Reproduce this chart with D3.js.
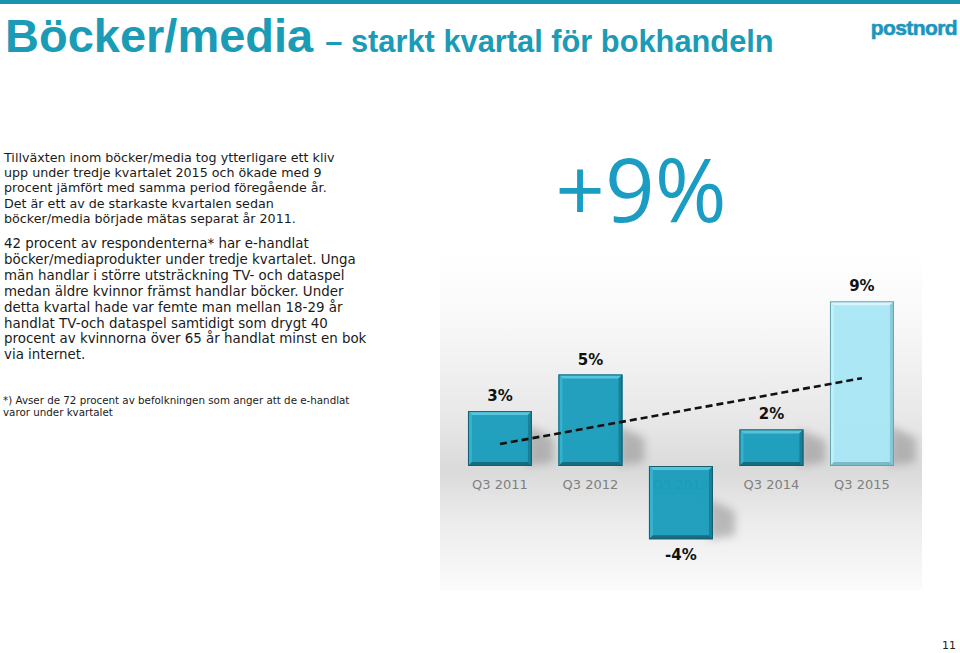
<!DOCTYPE html>
<html>
<head>
<meta charset="utf-8">
<script src="https://cdn.jsdelivr.net/npm/d3@7"></script>
<style>
  html, body { margin: 0; padding: 0; background: #ffffff; }
  svg { display: block; }
</style>
</head>
<body>
<svg id="chart" width="960" height="653"></svg>
<script>
// ---- data ----
const categories = ["Q3 2011", "Q3 2012", "Q3 2013", "Q3 2014", "Q3 2015"];
const values = [3, 5, -4, 2, 9];
const valueLabels = ["3%", "5%", "-4%", "2%", "9%"];
const highlighted = ["Q3 2015"];

const titleMain = "Böcker/media";
const titleSub = "– starkt kvartal för bokhandeln";
const bigNumber = "+9%";
const para1 = [
  "Tillväxten inom böcker/media tog ytterligare ett kliv",
  "upp under tredje kvartalet 2015 och ökade med 9",
  "procent jämfört med samma period föregående år.",
  "Det är ett av de starkaste kvartalen sedan",
  "böcker/media började mätas separat år 2011."
];
const para2 = [
  "42 procent av respondenterna* har e-handlat",
  "böcker/mediaprodukter under tredje kvartalet. Unga",
  "män handlar i större utsträckning TV- och dataspel",
  "medan äldre kvinnor främst handlar böcker. Under",
  "detta kvartal hade var femte man mellan 18-29 år",
  "handlat TV-och dataspel samtidigt som drygt 40",
  "procent av kvinnorna över 65 år handlat minst en bok",
  "via internet."
];
const footnote = [
  "*) Avser de 72 procent av befolkningen som anger att de e-handlat",
  "varor under kvartalet"
];
const pageNumber = "11";

// ---- drawing ----
const svg = d3.select("#chart");
const defs = svg.append("defs");
const teal = "#1a9bb6";

// top rule
svg.append("rect").attr("x", 0).attr("y", 0).attr("width", 960).attr("height", 4).attr("fill", "#1a93ad");

// title
const title = svg.append("text").attr("x", 5).attr("y", 52).attr("fill", teal)
  .attr("font-family", "'Liberation Sans', Arial, sans-serif").attr("font-weight", "bold");
title.append("tspan").attr("font-size", 47).text(titleMain);
title.append("tspan").attr("font-size", 30.8).attr("dx", 12).text(titleSub);

// logo
svg.append("text").attr("x", 957).attr("y", 35).attr("text-anchor", "end")
  .attr("font-family", "'Liberation Sans', Arial, sans-serif").attr("font-weight", "bold")
  .attr("font-size", 21).attr("letter-spacing", -0.6).attr("fill", "#1c96bd")
  .attr("stroke", "#1c96bd").attr("stroke-width", 0.6).text("postnord");

// paragraphs
const textG = svg.append("g").attr("font-family", "'DejaVu Sans', Verdana, sans-serif").attr("fill", "#1a1a1a");
textG.selectAll("text.p1").data(para1).join("text").attr("class", "p1")
  .attr("x", 4).attr("y", (d, i) => 162 + i * 15.2).attr("font-size", 12.7).text(d => d);
textG.selectAll("text.p2").data(para2).join("text").attr("class", "p2")
  .attr("x", 4).attr("y", (d, i) => 248 + i * 15.9).attr("font-size", 13.4).text(d => d);
textG.selectAll("text.fn").data(footnote).join("text").attr("class", "fn")
  .attr("x", 3).attr("y", (d, i) => 404 + i * 12).attr("font-size", 10.3).text(d => d);

// page number
svg.append("text").attr("x", 956).attr("y", 649).attr("text-anchor", "end")
  .attr("font-family", "'DejaVu Sans', Verdana, sans-serif").attr("font-size", 11)
  .attr("fill", "#222").text(pageNumber);

// chart panel background
const bg = defs.append("linearGradient").attr("id", "bg").attr("x1", 0).attr("y1", 0).attr("x2", 0).attr("y2", 1);
[[0, "#ffffff"], [0.22, "#f7f7f7"], [0.5, "#e7e7e7"], [0.64, "#dadada"], [0.8, "#ececec"], [1, "#fbfbfb"]]
  .forEach(([o, c]) => bg.append("stop").attr("offset", o).attr("stop-color", c));
svg.append("rect").attr("x", 440).attr("y", 255).attr("width", 482).attr("height", 335).attr("fill", "url(#bg)");

// big number
svg.append("text").attr("x", 641).attr("y", 222).attr("text-anchor", "middle")
  .attr("font-family", "'Open Sans', sans-serif").attr("font-size", 87)
  .attr("fill", "#1a9cc3").text(bigNumber);

// scales
const x = d3.scaleBand().domain(categories).range([454.4, 907.5]).paddingInner(0.293).paddingOuter(0.15);
const y = d3.scaleLinear().domain([-5, 10]).range([557.5, 283]);

const chart = svg.append("g");

// category labels (drawn first so bars overlap them)
chart.selectAll("text.cat").data(categories).join("text").attr("class", "cat")
  .attr("x", d => x(d) + x.bandwidth() / 2).attr("y", 489).attr("text-anchor", "middle")
  .attr("font-family", "'DejaVu Sans', Verdana, sans-serif").attr("font-size", 13)
  .attr("fill", "#7f7f7f").text(d => d);

// shadows
defs.append("filter").attr("id", "blur").attr("x", "-50%").attr("y", "-50%").attr("width", "200%").attr("height", "200%")
  .append("feGaussianBlur").attr("stdDeviation", 4);

const bars = categories.map((c, i) => {
  const v = values[i];
  const x0 = x(c), w = x.bandwidth();
  const yTop = y(Math.max(0, v)), yBot = y(Math.min(0, v));
  return { c, v, i, x0, w, yTop, yBot, hi: highlighted.includes(c) };
});

chart.selectAll("path.shadow").data(bars).join("path").attr("class", "shadow")
  .attr("d", b => {
    const h = Math.min(b.yBot - b.yTop, 40);
    const r = b.x0 + b.w;
    return `M${r - 4},${b.yBot} L${r - 4},${b.yBot - h} L${r + 22},${b.yBot - h * 0.7} L${r + 22},${b.yBot - 4} Z`;
  })
  .attr("fill", "#7a7a7a").attr("opacity", 0.45).attr("filter", "url(#blur)");

// bars with bevel
const pal = {
  base: { main: "#169cbc", top: "#4fc3dc", left: "#2ab0cd", right: "#0e7b94", bottom: "#0a667c", edge: "#09586a" },
  hi:   { main: "#a8e7f6", top: "#d5f5fc", left: "#c0effa", right: "#84cadb", bottom: "#74b9ca", edge: "#5d9fb0" }
};
const bv = 4;
const barG = chart.selectAll("g.bar").data(bars).join("g").attr("class", "bar").attr("opacity", 0.94);
barG.each(function(b) {
  const g = d3.select(this);
  const p = b.hi ? pal.hi : pal.base;
  const X = b.x0, Y = b.yTop, W = b.w, H = b.yBot - b.yTop;
  g.append("rect").attr("x", X).attr("y", Y).attr("width", W).attr("height", H).attr("fill", p.main);
  g.append("path").attr("d", `M${X},${Y} L${X + W},${Y} L${X + W - bv},${Y + bv} L${X + bv},${Y + bv} Z`).attr("fill", p.top);
  g.append("path").attr("d", `M${X},${Y} L${X + bv},${Y + bv} L${X + bv},${Y + H - bv} L${X},${Y + H} Z`).attr("fill", p.left);
  g.append("path").attr("d", `M${X + W},${Y} L${X + W},${Y + H} L${X + W - bv},${Y + H - bv} L${X + W - bv},${Y + bv} Z`).attr("fill", p.right);
  g.append("path").attr("d", `M${X},${Y + H} L${X + W},${Y + H} L${X + W - bv},${Y + H - bv} L${X + bv},${Y + H - bv} Z`).attr("fill", p.bottom);
  g.append("rect").attr("x", X + 0.5).attr("y", Y + 0.5).attr("width", W - 1).attr("height", H - 1)
    .attr("fill", "none").attr("stroke", p.edge).attr("stroke-width", 1);
});

// value labels
chart.selectAll("text.val").data(bars).join("text").attr("class", "val")
  .attr("x", b => b.x0 + b.w / 2)
  .attr("y", b => b.v >= 0 ? b.yTop - 10 : b.yBot + 21)
  .attr("text-anchor", "middle")
  .attr("font-family", "'DejaVu Sans', Verdana, sans-serif").attr("font-weight", "bold")
  .attr("font-size", 15).attr("fill", "#111").text((b, i) => valueLabels[i]);

// linear trend line (least squares over the values)
const n = values.length;
const xs = d3.range(1, n + 1);
const mx = d3.mean(xs), my = d3.mean(values);
const slope = d3.sum(xs, (xi, i) => (xi - mx) * (values[i] - my)) / d3.sum(xs, xi => (xi - mx) ** 2);
const icpt = my - slope * mx;
const trend = [0, n - 1].map(i => ({ c: categories[i], v: icpt + slope * xs[i] }));
chart.append("path")
  .attr("d", d3.line().x(d => x(d.c) + x.bandwidth() / 2).y(d => y(d.v))(trend))
  .attr("fill", "none").attr("stroke", "#111").attr("stroke-width", 2.6).attr("stroke-dasharray", "7,4");
</script>
</body>
</html>
